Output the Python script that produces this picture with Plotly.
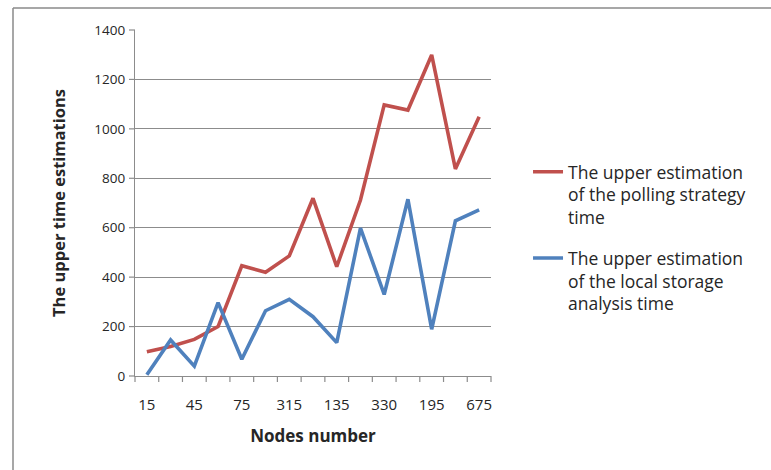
import plotly.graph_objects as go

# Node counts labelled on the category axis (every second category is labelled)
tick_labels = ["15", "45", "75", "315", "135", "330", "195", "675"]

# Upper time estimations per category
polling_time = [98, 119, 148, 200, 446, 420, 486, 719, 442, 712, 1097, 1076, 1299, 838, 1049]
local_storage_time = [5, 146, 40, 297, 68, 264, 310, 240, 135, 598, 330, 715, 189, 628, 672]

# y axis scale
y_max, y_step = 1400, 200
y_ticks = list(range(0, y_max + 1, y_step))

series_names = [
    "The upper estimation<br>of the polling strategy<br>time",
    "The upper estimation<br>of the local storage<br>analysis time",
]

x_idx = list(range(len(polling_time)))
n_cat = len(x_idx)

FONT = "'Open Sans', sans-serif"
TEXT = "#262626"
GRID = "#8c8c8c"

PLOT_W, PLOT_H = 356, 346  # plot area size in px (from the margins below)
TICK = 6                   # tick mark length in px

fig = go.Figure()
fig.add_trace(go.Scatter(
    x=x_idx, y=polling_time, mode="lines", name=series_names[0],
    legendgroup="polling",
    line=dict(color="#C0504D", width=3.6),
))
fig.add_trace(go.Scatter(
    x=x_idx, y=local_storage_time, mode="lines", name=series_names[1],
    legendgroup="local",
    line=dict(color="#4F81BD", width=3.6),
))

# tick marks on the category boundaries (x) and at each y gridline
tick_marks = [
    dict(type="line", xref="paper", yref="paper",
         x0=i / n_cat, x1=i / n_cat, y0=0, y1=-TICK / PLOT_H,
         line=dict(color=GRID, width=1.2))
    for i in range(n_cat + 1)
] + [
    dict(type="line", xref="paper", yref="paper",
         x0=-TICK / PLOT_W, x1=0, y0=v / y_max, y1=v / y_max,
         line=dict(color=GRID, width=1.2))
    for v in y_ticks
]

# chart area border (top and left edges)
border = [
    dict(type="line", xref="paper", yref="paper",
         x0=-122 / PLOT_W, x1=645 / PLOT_W,
         y0=368 / PLOT_H, y1=368 / PLOT_H,
         line=dict(color="#8a8a8a", width=1.5)),
    dict(type="line", xref="paper", yref="paper",
         x0=-122 / PLOT_W, x1=-122 / PLOT_W,
         y0=368 / PLOT_H, y1=-104 / PLOT_H,
         line=dict(color="#8a8a8a", width=1.5)),
]

fig.update_layout(
    width=771, height=470,
    margin=dict(l=135, r=280, t=30, b=94),
    paper_bgcolor="white", plot_bgcolor="white",
    font=dict(family=FONT, size=14, color=TEXT),
    showlegend=True,
    legend=dict(
        x=1.104, y=0.642, xanchor="left", yanchor="top", valign="top",
        font=dict(family=FONT, size=17.5, color=TEXT),
        tracegroupgap=15, bgcolor="rgba(0,0,0,0)",
    ),
    xaxis=dict(
        range=[-0.5, n_cat - 0.5],
        tickmode="array", tickvals=x_idx[::2], ticktext=tick_labels,
        # transparent ticks only push the labels down
        ticks="outside", ticklen=15, tickcolor="rgba(0,0,0,0)",
        showgrid=False, zeroline=False,
        showline=True, linecolor=GRID, linewidth=1.2,
        tickfont=dict(family=FONT, size=15, color=TEXT),
        title=dict(text="<b>Nodes number</b>", standoff=17,
                   font=dict(family=FONT, size=17, color=TEXT)),
    ),
    yaxis=dict(
        range=[0, y_max], tickmode="array", tickvals=y_ticks,
        ticks="outside", ticklen=TICK, tickcolor="rgba(0,0,0,0)",
        showgrid=True, gridcolor=GRID, gridwidth=1.2, zeroline=False,
        showline=True, linecolor=GRID, linewidth=1.2,
        ticksuffix="\u00a0\u00a0",
        tickfont=dict(family=FONT, size=13.5, color=TEXT),
        title=dict(text="<b>The upper time estimations</b>", standoff=24,
                   font=dict(family=FONT, size=16.5, color=TEXT)),
    ),
    shapes=tick_marks + border,
)

fig.write_html("out.html")
